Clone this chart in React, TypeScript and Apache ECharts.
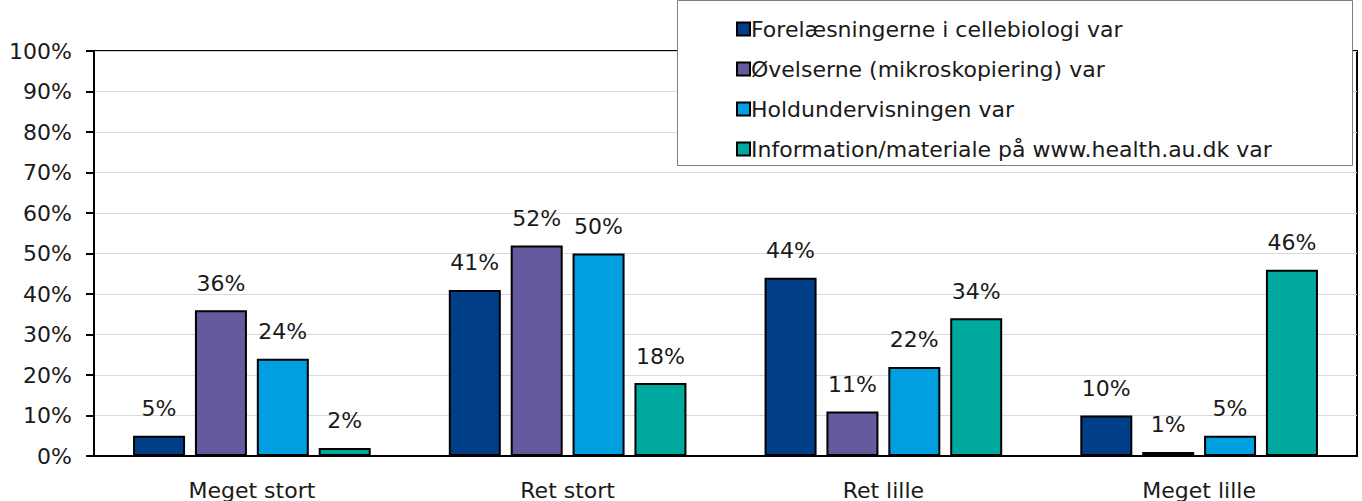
import React, { useEffect, useRef } from "react";
import * as echarts from "echarts";

const categories = ["Meget stort", "Ret stort", "Ret lille", "Meget lille"];
const seriesNames = [
  "Forelæsningerne i cellebiologi var",
  "Øvelserne (mikroskopiering) var",
  "Holdundervisningen var",
  "Information/materiale på www.health.au.dk var",
];
const forelaesninger = [5, 41, 44, 10];
const oevelser = [36, 52, 11, 1];
const holdundervisning = [24, 50, 22, 5];
const information = [2, 18, 34, 46];
const colors = ["#003E87", "#665A9E", "#009FDF", "#00A99D"];

const FONT = "DejaVu Sans";
const TXT = "#1a1a1a";

export default function App() {
  const ref = useRef<HTMLDivElement>(null);
  useEffect(() => {
    document.body.style.margin = "0";
    const chart = echarts.init(ref.current!, null, { renderer: "svg" });
    const values = [forelaesninger, oevelser, holdundervisning, information];
    chart.setOption({
      animation: false,
      textStyle: { fontFamily: FONT },
      grid: {
        left: 94,
        right: 5,
        top: 51,
        bottom: 45,
        show: true,
        borderColor: "#000",
        borderWidth: 2,
        containLabel: false,
      },
      xAxis: {
        type: "category",
        data: categories,
        axisLine: { lineStyle: { color: "#000", width: 2 } },
        axisTick: { show: false },
        axisLabel: { color: TXT, fontSize: 22, margin: 23, fontFamily: FONT },
      },
      yAxis: {
        type: "value",
        min: 0,
        max: 100,
        interval: 10,
        axisLine: { show: true, lineStyle: { color: "#000", width: 2 } },
        axisTick: { show: true, length: 8, lineStyle: { color: "#000", width: 2 } },
        axisLabel: { color: TXT, fontSize: 22, margin: 22, formatter: "{value}%", fontFamily: FONT },
        splitLine: { lineStyle: { color: "#d9d9d9", width: 1 } },
      },
      legend: {
        orient: "vertical",
        left: 731,
        top: 13,
        z: 10,
        itemWidth: 13,
        itemHeight: 13,
        itemGap: 18,
        icon: "rect",
        textStyle: { color: TXT, fontSize: 22, lineHeight: 22, fontFamily: FONT, padding: [0, 0, 0, -4] },
        data: seriesNames,
      },
      graphic: [
        {
          type: "rect",
          z: 5,
          shape: { x: 677.5, y: 0.5, width: 675, height: 165 },
          style: { fill: "#fff", stroke: "#7f7f7f", lineWidth: 1 },
        },
      ],
      series: seriesNames.map((name, i) => ({
        name,
        type: "bar",
        data: values[i],
        barWidth: 52,
        barGap: "19%",
        itemStyle: { color: colors[i], borderColor: "#000", borderWidth: 2 },
        label: {
          show: true,
          position: "top",
          distance: 16,
          formatter: "{c}%",
          color: TXT,
          fontSize: 22,
          fontFamily: FONT,
        },
      })),
    });
    return () => chart.dispose();
  }, []);
  return <div ref={ref} style={{ width: 1362, height: 501 }} />;
}
